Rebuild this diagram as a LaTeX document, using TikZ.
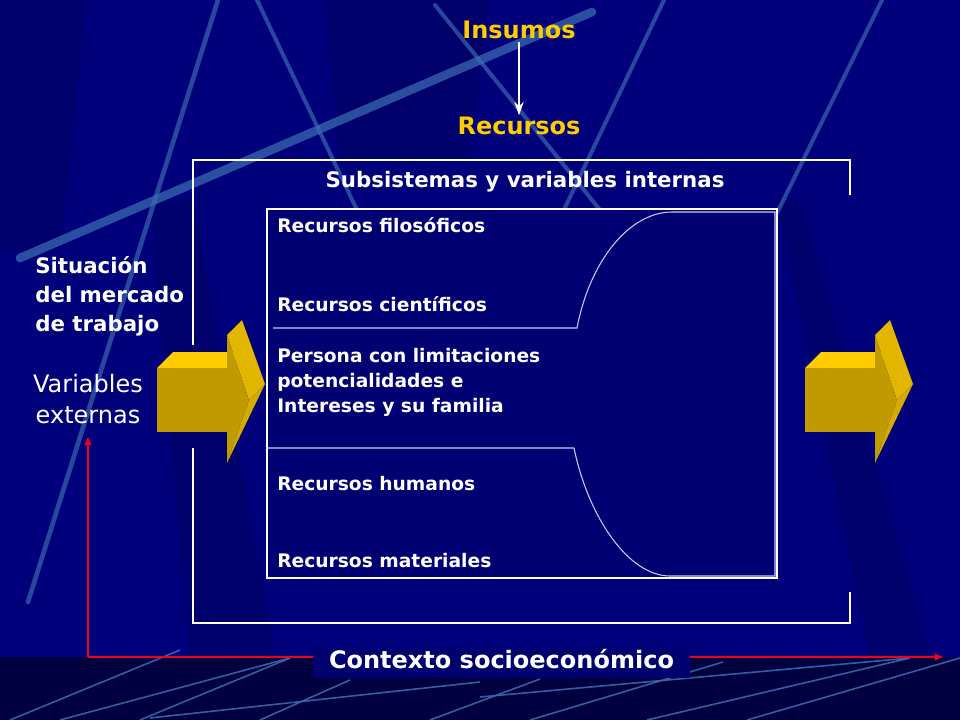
\documentclass[tikz,border=0pt]{standalone}
\usepackage{fontspec}
\setmainfont{DejaVu Sans}
\usetikzlibrary{arrows.meta}
\definecolor{bgnavy}{HTML}{00007A}
\definecolor{darknavy}{HTML}{000052}
\definecolor{bandnavy}{HTML}{000040}
\definecolor{innernavy}{HTML}{000072}
\definecolor{ctxnavy}{HTML}{00006E}
\definecolor{streak}{HTML}{3C70B2}
\definecolor{gold}{HTML}{FFCC00}
\definecolor{goldfront}{HTML}{C09B00}
\definecolor{goldside}{HTML}{E3B600}
\definecolor{goldlow}{HTML}{D6AA00}
\definecolor{lavender}{HTML}{C8C8FF}
\definecolor{redline}{HTML}{F0001C}
\newcommand\stacklines[2]{\begin{tabular}[t]{@{}#1@{}}#2\end{tabular}}
\newcommand\goldarrow[1]{%
  \begin{scope}[shift={(#1,0)}]
    \fill[gold] (157,368) -- (173,352) -- (243,352) -- (227,368) -- cycle;
    \fill[goldfront] (157,368) rectangle (227,432);
    \fill[goldside] (227,335) -- (242,320) -- (265,384) -- (249,400) -- cycle;
    \fill[goldlow] (249,400) -- (265,384) -- (227,463) -- cycle;
    \fill[goldfront] (227,335) -- (249,400) -- (227,463) -- cycle;
  \end{scope}}
\tikzset{
  ytxt/.style={text=gold, font=\bfseries\fontsize{18}{21.6}\selectfont, inner sep=1.5pt, anchor=base},
  subhead/.style={text=white, font=\bfseries\fontsize{16}{19.2}\selectfont, inner sep=0pt, anchor=base},
  item/.style={text=white, font=\bfseries\fontsize{14}{19.1}\selectfont, inner sep=0pt, anchor=base west},
  sidetxt/.style={text=white, font=\bfseries\fontsize{16}{21.4}\selectfont, inner sep=0pt, anchor=base west},
  vartxt/.style={text=white, font=\fontsize{18}{23.25}\selectfont, inner sep=0pt, anchor=base},
  ctx/.style={text=white, fill=ctxnavy, font=\bfseries\fontsize{18}{21.6}\selectfont, inner sep=0pt,
    minimum width=282.75pt, minimum height=22.5pt, text height=13.2pt, text depth=5.4pt},
  boxline/.style={white, line width=0.8pt},
  bracketline/.style={lavender, line width=0.8pt},
  streakline/.style={streak, line cap=round},
  bandline/.style={streak, line width=1.2pt, opacity=0.85},
  whitearrow/.style={white, line width=1.1pt, -{Stealth[length=10pt,width=7pt]}},
  redarrow/.style={redline, line width=2pt, -{Latex[length=7pt,width=6pt]}},
}
\begin{document}
\begin{tikzpicture}[x=0.75pt,y=-0.75pt]
\useasboundingbox (0,0) rectangle (960,720);
% background
\fill[bgnavy] (0,0) rectangle (960,720);
\fill[darknavy, opacity=0.3] (0,0) -- (86,0) -- (60,250) -- (0,250) -- cycle;
\fill[darknavy, opacity=0.35] (325,0) -- (490,0) -- (470,160) -- (340,160) -- cycle;
\fill[darknavy, opacity=0.35] (150,200) -- (193,200) -- (275,657) -- (190,657) -- cycle;
\fill[darknavy, opacity=0.3] (777,200) -- (800,200) -- (930,657) -- (870,657) -- cycle;
% streaks
\draw[streakline, line width=6.5pt, opacity=0.7] (20,258) -- (592,12);
\draw[streakline, line width=3.5pt, opacity=0.65] (218,0) -- (28,602);
\draw[streakline, line width=3pt, opacity=0.65] (257,0) -- (357,210);
\draw[streakline, line width=3pt, opacity=0.65] (435,5) -- (600,210);
\draw[streakline, line width=3pt, opacity=0.65] (664,0) -- (540,260);
\draw[streakline, line width=3pt, opacity=0.65] (882,0) -- (777,213);
% bottom band
\fill[bandnavy] (0,657) rectangle (960,720);
\draw[bandline] (10,720) -- (180,650);
\draw[bandline] (60,720) -- (290,658);
\draw[bandline] (140,720) -- (290,658);
\draw[bandline] (150,718) -- (480,682);
\draw[bandline] (260,720) -- (350,680);
\draw[bandline] (430,720) -- (540,679);
\draw[bandline] (530,720) -- (723,662);
\draw[bandline] (480,697) -- (910,658);
\draw[bandline] (647,720) -- (910,658);
\draw[bandline] (747,720) -- (960,658);
% outer box
\draw[boxline] (850,195) -- (850,160) -- (193,160) -- (193,345);
\draw[boxline] (193,448) -- (193,623) -- (850,623) -- (850,592);
% inner box
\node[draw=white, line width=0.8pt, fill=innernavy, inner sep=0pt, minimum width=382.5pt, minimum height=276.75pt] (inner) at (522,393.5) {};
\draw[bracketline] (273,328) -- (577,328) .. controls (590,260) and (630,212) .. (672,212)
  -- (775,212) -- (775,576) -- (670,576) .. controls (628,576) and (588,516) .. (574,448) -- (266,448);
% arrows
\goldarrow{0}
\goldarrow{648}
% texts
\node[ytxt] (insumos) at (519,39) {Insumos};
\node[ytxt] (recursos) at (519,135) {Recursos};
\draw[whitearrow] (insumos) -- (recursos);
\node[subhead] (subsis) at (525,188) {Subsistemas y variables internas};
\node[item] (filo) at (277,233) {Recursos filosóficos};
\node[item] (cient) at (277,311) {Recursos científicos};
\node[item] (persona) at (277,362) {\stacklines{l}{Persona con limitaciones\\potencialidades e\\Intereses y su familia}};
\node[item] (humanos) at (277,490) {Recursos humanos};
\node[item] (materiales) at (277,567) {Recursos materiales};
\node[sidetxt] (situacion) at (35,274) {\stacklines{l}{Situación\\del mercado\\de trabajo}};
\node[vartxt] (varext) at (88,392) {\stacklines{c}{Variables\\externas}};
% context axes
\coordinate (corner) at (88,657);
\coordinate (vtip) at (88,436);
\coordinate (htip) at (944,657);
\draw[redarrow] (corner) -- (vtip);
\draw[redarrow] (corner) -- (htip);
\node[ctx] (contexto) at (501.5,663) {Contexto socioeconómico};
\end{tikzpicture}
\end{document}
